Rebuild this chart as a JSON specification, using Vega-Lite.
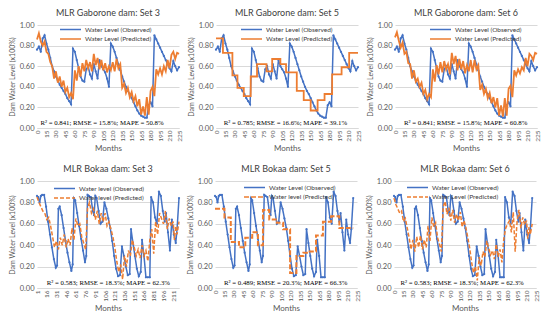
{
  "$schema": "https://vega.github.io/schema/vega-lite/v6.json",
  "background": "white",
  "padding": {"left": 8, "top": 9, "right": 4, "bottom": 4},
  "config": {
    "view": {"stroke": null},
    "font": "Lato",
    "title": {"font": "Lato", "fontSize": 9, "fontWeight": "normal", "color": "#404040", "offset": 3},
    "axis": {"labelFont": "Lato", "titleFont": "Lato", "labelColor": "#595959", "titleColor": "#595959", "titleFontWeight": "normal", "gridColor": "#d9d9d9", "domainColor": "#d9d9d9", "ticks": false},
    "axisY": {"labelFontSize": 7.5, "titleFontSize": 7, "domain": false, "labelPadding": 3, "titlePadding": 4},
    "axisX": {"grid": false, "labelAngle": -90, "labelFontSize": 6.5, "titleFontSize": 8, "labelPadding": 2, "titlePadding": 3, "labelBaseline": "middle", "labelAlign": "right"},
    "legend": {"orient": "none", "labelFont": "Lato", "labelFontSize": 6.5, "labelColor": "#404040", "symbolType": "M-5,0H1", "symbolSize": 49, "symbolStrokeWidth": 1.5, "symbolFillColor": "transparent", "rowPadding": 1.5, "padding": 0, "labelOffset": 3}
  },
  "datasets": {
    "gobs": [{"m":0,"v":0.76},{"m":3,"v":0.79},{"m":6,"v":0.74},{"m":9,"v":0.87},{"m":12,"v":0.9},{"m":15,"v":0.82},{"m":18,"v":0.76},{"m":21,"v":0.68},{"m":24,"v":0.6},{"m":27,"v":0.55},{"m":30,"v":0.5},{"m":33,"v":0.46},{"m":36,"v":0.42},{"m":39,"v":0.39},{"m":42,"v":0.36},{"m":45,"v":0.33},{"m":48,"v":0.29},{"m":51,"v":0.26},{"m":54,"v":0.23},{"m":57,"v":0.77},{"m":60,"v":0.74},{"m":63,"v":0.66},{"m":66,"v":0.58},{"m":69,"v":0.5},{"m":72,"v":0.46},{"m":75,"v":0.45},{"m":78,"v":0.57},{"m":81,"v":0.6},{"m":84,"v":0.52},{"m":87,"v":0.48},{"m":90,"v":0.62},{"m":93,"v":0.55},{"m":96,"v":0.48},{"m":99,"v":0.66},{"m":102,"v":0.6},{"m":105,"v":0.57},{"m":108,"v":0.54},{"m":111,"v":0.48},{"m":114,"v":0.4},{"m":117,"v":0.82},{"m":120,"v":0.79},{"m":123,"v":0.74},{"m":126,"v":0.68},{"m":129,"v":0.62},{"m":132,"v":0.56},{"m":135,"v":0.5},{"m":138,"v":0.45},{"m":141,"v":0.4},{"m":144,"v":0.36},{"m":147,"v":0.33},{"m":150,"v":0.29},{"m":153,"v":0.25},{"m":156,"v":0.21},{"m":159,"v":0.17},{"m":162,"v":0.14},{"m":165,"v":0.12},{"m":168,"v":0.11},{"m":171,"v":0.1},{"m":174,"v":0.1},{"m":177,"v":0.22},{"m":180,"v":0.25},{"m":183,"v":0.21},{"m":186,"v":0.9},{"m":189,"v":0.86},{"m":192,"v":0.82},{"m":195,"v":0.78},{"m":198,"v":0.74},{"m":201,"v":0.7},{"m":204,"v":0.66},{"m":207,"v":0.62},{"m":210,"v":0.58},{"m":213,"v":0.55},{"m":216,"v":0.65},{"m":219,"v":0.6},{"m":222,"v":0.56},{"m":225,"v":0.59}],
    "gp3": [{"m":0,"v":0.86},{"m":3,"v":0.92},{"m":6,"v":0.84},{"m":9,"v":0.8},{"m":12,"v":0.84},{"m":15,"v":0.74},{"m":18,"v":0.72},{"m":21,"v":0.64},{"m":24,"v":0.6},{"m":27,"v":0.48},{"m":30,"v":0.55},{"m":33,"v":0.44},{"m":36,"v":0.5},{"m":39,"v":0.4},{"m":42,"v":0.46},{"m":45,"v":0.35},{"m":48,"v":0.39},{"m":51,"v":0.3},{"m":54,"v":0.34},{"m":57,"v":0.28},{"m":60,"v":0.56},{"m":63,"v":0.46},{"m":66,"v":0.6},{"m":69,"v":0.5},{"m":72,"v":0.63},{"m":75,"v":0.55},{"m":78,"v":0.66},{"m":81,"v":0.58},{"m":84,"v":0.64},{"m":87,"v":0.55},{"m":90,"v":0.72},{"m":93,"v":0.61},{"m":96,"v":0.68},{"m":99,"v":0.57},{"m":102,"v":0.66},{"m":105,"v":0.56},{"m":108,"v":0.63},{"m":111,"v":0.54},{"m":114,"v":0.6},{"m":117,"v":0.56},{"m":120,"v":0.64},{"m":123,"v":0.55},{"m":126,"v":0.67},{"m":129,"v":0.58},{"m":132,"v":0.62},{"m":135,"v":0.39},{"m":138,"v":0.43},{"m":141,"v":0.34},{"m":144,"v":0.39},{"m":147,"v":0.3},{"m":150,"v":0.35},{"m":153,"v":0.26},{"m":156,"v":0.31},{"m":159,"v":0.21},{"m":162,"v":0.28},{"m":165,"v":0.13},{"m":168,"v":0.21},{"m":171,"v":0.12},{"m":174,"v":0.3},{"m":177,"v":0.13},{"m":180,"v":0.36},{"m":183,"v":0.4},{"m":186,"v":0.31},{"m":189,"v":0.57},{"m":192,"v":0.52},{"m":195,"v":0.58},{"m":198,"v":0.52},{"m":201,"v":0.6},{"m":204,"v":0.55},{"m":207,"v":0.66},{"m":210,"v":0.58},{"m":213,"v":0.71},{"m":216,"v":0.74},{"m":219,"v":0.67},{"m":222,"v":0.73},{"m":225,"v":0.72}],
    "gp5": [{"m":0,"v":0.87},{"m":11,"v":0.73},{"m":26,"v":0.51},{"m":34,"v":0.39},{"m":44,"v":0.31},{"m":55,"v":0.5},{"m":65,"v":0.62},{"m":80,"v":0.55},{"m":89,"v":0.67},{"m":102,"v":0.62},{"m":111,"v":0.54},{"m":128,"v":0.36},{"m":139,"v":0.27},{"m":150,"v":0.17},{"m":161,"v":0.27},{"m":172,"v":0.33},{"m":184,"v":0.52},{"m":199,"v":0.59},{"m":211,"v":0.73},{"m":225,"v":0.73}],
    "gp6": [{"m":0,"v":0.88},{"m":3,"v":0.93},{"m":6,"v":0.85},{"m":9,"v":0.78},{"m":12,"v":0.83},{"m":15,"v":0.72},{"m":18,"v":0.74},{"m":21,"v":0.63},{"m":24,"v":0.62},{"m":27,"v":0.48},{"m":30,"v":0.56},{"m":33,"v":0.45},{"m":36,"v":0.48},{"m":39,"v":0.4},{"m":42,"v":0.44},{"m":45,"v":0.33},{"m":48,"v":0.37},{"m":51,"v":0.28},{"m":54,"v":0.33},{"m":57,"v":0.3},{"m":60,"v":0.57},{"m":63,"v":0.45},{"m":66,"v":0.61},{"m":69,"v":0.52},{"m":72,"v":0.64},{"m":75,"v":0.54},{"m":78,"v":0.65},{"m":81,"v":0.57},{"m":84,"v":0.62},{"m":87,"v":0.52},{"m":90,"v":0.73},{"m":93,"v":0.62},{"m":96,"v":0.7},{"m":99,"v":0.56},{"m":102,"v":0.67},{"m":105,"v":0.57},{"m":108,"v":0.65},{"m":111,"v":0.53},{"m":114,"v":0.61},{"m":117,"v":0.55},{"m":120,"v":0.66},{"m":123,"v":0.54},{"m":126,"v":0.66},{"m":129,"v":0.57},{"m":132,"v":0.61},{"m":135,"v":0.37},{"m":138,"v":0.42},{"m":141,"v":0.33},{"m":144,"v":0.38},{"m":147,"v":0.29},{"m":150,"v":0.34},{"m":153,"v":0.24},{"m":156,"v":0.3},{"m":159,"v":0.2},{"m":162,"v":0.29},{"m":165,"v":0.12},{"m":168,"v":0.22},{"m":171,"v":0.11},{"m":174,"v":0.29},{"m":177,"v":0.12},{"m":180,"v":0.38},{"m":183,"v":0.41},{"m":186,"v":0.3},{"m":189,"v":0.56},{"m":192,"v":0.51},{"m":195,"v":0.57},{"m":198,"v":0.53},{"m":201,"v":0.59},{"m":204,"v":0.56},{"m":207,"v":0.68},{"m":210,"v":0.6},{"m":213,"v":0.72},{"m":216,"v":0.7},{"m":219,"v":0.66},{"m":222,"v":0.73},{"m":225,"v":0.72}],
    "bobs": [{"m":0,"v":0.86},{"m":2,"v":0.85},{"m":4,"v":0.8},{"m":6,"v":0.86},{"m":8,"v":0.87},{"m":11,"v":0.87},{"m":14,"v":0.76},{"m":17,"v":0.62},{"m":20,"v":0.5},{"m":23,"v":0.38},{"m":26,"v":0.27},{"m":29,"v":0.19},{"m":31,"v":0.21},{"m":33,"v":0.74},{"m":35,"v":0.76},{"m":38,"v":0.68},{"m":41,"v":0.56},{"m":44,"v":0.44},{"m":47,"v":0.33},{"m":50,"v":0.24},{"m":53,"v":0.16},{"m":55,"v":0.22},{"m":57,"v":0.84},{"m":59,"v":0.82},{"m":62,"v":0.7},{"m":65,"v":0.58},{"m":68,"v":0.46},{"m":71,"v":0.35},{"m":74,"v":0.24},{"m":76,"v":0.3},{"m":78,"v":0.87},{"m":80,"v":0.86},{"m":83,"v":0.85},{"m":86,"v":0.72},{"m":88,"v":0.68},{"m":90,"v":0.86},{"m":92,"v":0.84},{"m":95,"v":0.72},{"m":98,"v":0.6},{"m":101,"v":0.62},{"m":104,"v":0.8},{"m":107,"v":0.74},{"m":110,"v":0.65},{"m":113,"v":0.56},{"m":116,"v":0.44},{"m":119,"v":0.3},{"m":122,"v":0.18},{"m":125,"v":0.11},{"m":128,"v":0.12},{"m":131,"v":0.39},{"m":134,"v":0.3},{"m":137,"v":0.2},{"m":140,"v":0.12},{"m":143,"v":0.13},{"m":145,"v":0.55},{"m":148,"v":0.42},{"m":151,"v":0.3},{"m":154,"v":0.18},{"m":157,"v":0.11},{"m":160,"v":0.15},{"m":162,"v":0.45},{"m":165,"v":0.3},{"m":168,"v":0.1},{"m":171,"v":0.1},{"m":174,"v":0.1},{"m":176,"v":0.85},{"m":179,"v":0.8},{"m":182,"v":0.66},{"m":185,"v":0.6},{"m":188,"v":0.9},{"m":191,"v":0.86},{"m":194,"v":0.72},{"m":197,"v":0.62},{"m":199,"v":0.7},{"m":202,"v":0.52},{"m":205,"v":0.35},{"m":208,"v":0.64},{"m":211,"v":0.5},{"m":214,"v":0.42},{"m":216,"v":0.55},{"m":219,"v":0.84}],
    "bp3": [{"m":0,"v":0.85},{"m":3,"v":0.8},{"m":6,"v":0.76},{"m":9,"v":0.72},{"m":12,"v":0.7},{"m":15,"v":0.64},{"m":18,"v":0.66},{"m":21,"v":0.58},{"m":24,"v":0.48},{"m":27,"v":0.38},{"m":30,"v":0.44},{"m":33,"v":0.36},{"m":36,"v":0.47},{"m":39,"v":0.4},{"m":42,"v":0.5},{"m":45,"v":0.38},{"m":48,"v":0.46},{"m":51,"v":0.4},{"m":54,"v":0.56},{"m":57,"v":0.45},{"m":60,"v":0.65},{"m":63,"v":0.58},{"m":66,"v":0.6},{"m":69,"v":0.48},{"m":72,"v":0.42},{"m":75,"v":0.36},{"m":78,"v":0.75},{"m":81,"v":0.8},{"m":84,"v":0.7},{"m":87,"v":0.74},{"m":90,"v":0.64},{"m":93,"v":0.72},{"m":96,"v":0.6},{"m":99,"v":0.7},{"m":102,"v":0.62},{"m":105,"v":0.7},{"m":108,"v":0.58},{"m":111,"v":0.62},{"m":114,"v":0.55},{"m":117,"v":0.48},{"m":120,"v":0.38},{"m":123,"v":0.25},{"m":126,"v":0.15},{"m":129,"v":0.22},{"m":132,"v":0.08},{"m":135,"v":0.3},{"m":138,"v":0.2},{"m":141,"v":0.35},{"m":144,"v":0.3},{"m":147,"v":0.45},{"m":150,"v":0.38},{"m":153,"v":0.3},{"m":156,"v":0.36},{"m":159,"v":0.28},{"m":162,"v":0.4},{"m":165,"v":0.3},{"m":168,"v":0.35},{"m":171,"v":0.25},{"m":174,"v":0.45},{"m":177,"v":0.55},{"m":180,"v":0.32},{"m":183,"v":0.62},{"m":186,"v":0.5},{"m":189,"v":0.7},{"m":192,"v":0.65},{"m":195,"v":0.6},{"m":198,"v":0.72},{"m":201,"v":0.55},{"m":204,"v":0.65},{"m":207,"v":0.58},{"m":210,"v":0.62},{"m":212,"v":0.45},{"m":214,"v":0.58},{"m":216,"v":0.5},{"m":219,"v":0.62}],
    "bp5": [{"m":0,"v":0.74},{"m":15,"v":0.66},{"m":25,"v":0.43},{"m":38,"v":0.38},{"m":48,"v":0.47},{"m":59,"v":0.52},{"m":68,"v":0.4},{"m":76,"v":0.73},{"m":86,"v":0.64},{"m":98,"v":0.61},{"m":108,"v":0.55},{"m":119,"v":0.14},{"m":129,"v":0.3},{"m":140,"v":0.33},{"m":150,"v":0.34},{"m":160,"v":0.49},{"m":171,"v":0.62},{"m":184,"v":0.67},{"m":197,"v":0.56},{"m":219,"v":0.56}],
    "bp6": [{"m":0,"v":0.84},{"m":3,"v":0.78},{"m":6,"v":0.74},{"m":9,"v":0.7},{"m":12,"v":0.72},{"m":15,"v":0.62},{"m":18,"v":0.65},{"m":21,"v":0.56},{"m":24,"v":0.47},{"m":27,"v":0.36},{"m":30,"v":0.45},{"m":33,"v":0.34},{"m":36,"v":0.48},{"m":39,"v":0.38},{"m":42,"v":0.49},{"m":45,"v":0.36},{"m":48,"v":0.45},{"m":51,"v":0.38},{"m":54,"v":0.58},{"m":57,"v":0.44},{"m":60,"v":0.66},{"m":63,"v":0.57},{"m":66,"v":0.61},{"m":69,"v":0.47},{"m":72,"v":0.41},{"m":75,"v":0.34},{"m":78,"v":0.76},{"m":81,"v":0.81},{"m":84,"v":0.69},{"m":87,"v":0.75},{"m":90,"v":0.63},{"m":93,"v":0.73},{"m":96,"v":0.61},{"m":99,"v":0.69},{"m":102,"v":0.63},{"m":105,"v":0.71},{"m":108,"v":0.57},{"m":111,"v":0.63},{"m":114,"v":0.56},{"m":117,"v":0.47},{"m":120,"v":0.37},{"m":123,"v":0.24},{"m":126,"v":0.14},{"m":129,"v":0.2},{"m":132,"v":0.07},{"m":135,"v":0.29},{"m":138,"v":0.21},{"m":141,"v":0.34},{"m":144,"v":0.29},{"m":147,"v":0.44},{"m":150,"v":0.37},{"m":153,"v":0.31},{"m":156,"v":0.35},{"m":159,"v":0.27},{"m":162,"v":0.41},{"m":165,"v":0.29},{"m":168,"v":0.36},{"m":171,"v":0.24},{"m":174,"v":0.46},{"m":177,"v":0.56},{"m":180,"v":0.6},{"m":183,"v":0.63},{"m":186,"v":0.52},{"m":189,"v":0.71},{"m":192,"v":0.34},{"m":195,"v":0.62},{"m":198,"v":0.73},{"m":201,"v":0.56},{"m":204,"v":0.66},{"m":207,"v":0.59},{"m":210,"v":0.63},{"m":212,"v":0.46},{"m":214,"v":0.57},{"m":216,"v":0.5},{"m":219,"v":0.6}]
  },
  "vconcat": [
    {
      "hconcat": [
        {
          "width": 142, "height": 103,
          "title": "MLR Gaborone dam: Set 3",
          "layer": [
            {"data": {"name": "gobs"}, "mark": {"type": "line", "strokeWidth": 1.5, "point": {"filled": true, "size": 5}},
             "encoding": {
               "x": {"field": "m", "type": "quantitative", "scale": {"domain": [0, 225], "nice": false}, "axis": {"title": "Months", "values": [0,15,30,45,60,75,90,105,120,135,150,165,180,195,210,225], "tickCount": 16}},
               "y": {"field": "v", "type": "quantitative", "scale": {"domain": [0, 1]}, "axis": {"title": "Dam Water Level (x100%)", "values": [0,0.2,0.4,0.6,0.8,1], "format": ".2f", "tickCount": 6}},
               "color": {"datum": "Water Level (Observed)", "scale": {"domain": ["Water Level (Observed)", "Water Level (Predicted)"], "range": ["#4472C4", "#ED7D31"]}, "legend": {"title": null, "legendX": 36, "legendY": 0}}}},
            {"data": {"name": "gp3"}, "mark": {"type": "line", "strokeWidth": 1.8},
             "encoding": {"x": {"field": "m", "type": "quantitative"}, "y": {"field": "v", "type": "quantitative"}, "color": {"datum": "Water Level (Predicted)"}}},
            {"data": {"values": [{"label": "R² = 0.841; RMSE = 15.8%; MAPE = 50.8%"}]}, "mark": {"type": "text", "font": "Liberation Serif", "fontSize": 6.8, "color": "#000000", "align": "center"},
             "encoding": {"x": {"datum": 103}, "y": {"datum": 0.05}, "text": {"field": "label"}}}
          ]
        },
        {
          "width": 142, "height": 103,
          "title": "MLR Gaborone dam: Set 5",
          "layer": [
            {"data": {"name": "gobs"}, "mark": {"type": "line", "strokeWidth": 1.5, "point": {"filled": true, "size": 5}},
             "encoding": {
               "x": {"field": "m", "type": "quantitative", "scale": {"domain": [0, 225], "nice": false}, "axis": {"title": "Months", "values": [0,15,30,45,60,75,90,105,120,135,150,165,180,195,210,225], "tickCount": 16}},
               "y": {"field": "v", "type": "quantitative", "scale": {"domain": [0, 1]}, "axis": {"title": "Dam Water Level (x100%)", "values": [0,0.2,0.4,0.6,0.8,1], "format": ".2f", "tickCount": 6}},
               "color": {"datum": "Water Level (Observed)", "scale": {"domain": ["Water Level (Observed)", "Water Level (Predicted)"], "range": ["#4472C4", "#ED7D31"]}, "legend": {"title": null, "legendX": 38, "legendY": 0}}}},
            {"data": {"name": "gp5"}, "mark": {"type": "line", "strokeWidth": 1.8, "interpolate": "step-after"},
             "encoding": {"x": {"field": "m", "type": "quantitative"}, "y": {"field": "v", "type": "quantitative"}, "color": {"datum": "Water Level (Predicted)"}}},
            {"data": {"values": [{"label": "R² = 0.785; RMSE = 16.6%; MAPE = 39.1%"}]}, "mark": {"type": "text", "font": "Liberation Serif", "fontSize": 6.8, "color": "#000000", "align": "center"},
             "encoding": {"x": {"datum": 110}, "y": {"datum": 0.05}, "text": {"field": "label"}}}
          ]
        },
        {
          "width": 142, "height": 103,
          "title": "MLR Gaborone dam: Set 6",
          "layer": [
            {"data": {"name": "gobs"}, "mark": {"type": "line", "strokeWidth": 1.5, "point": {"filled": true, "size": 5}},
             "encoding": {
               "x": {"field": "m", "type": "quantitative", "scale": {"domain": [0, 225], "nice": false}, "axis": {"title": "Months", "values": [0,15,30,45,60,75,90,105,120,135,150,165,180,195,210,225], "tickCount": 16}},
               "y": {"field": "v", "type": "quantitative", "scale": {"domain": [0, 1]}, "axis": {"title": "Dam Water Level (x100%)", "values": [0,0.2,0.4,0.6,0.8,1], "format": ".2f", "tickCount": 6}},
               "color": {"datum": "Water Level (Observed)", "scale": {"domain": ["Water Level (Observed)", "Water Level (Predicted)"], "range": ["#4472C4", "#ED7D31"]}, "legend": {"title": null, "legendX": 48, "legendY": 0}}}},
            {"data": {"name": "gp6"}, "mark": {"type": "line", "strokeWidth": 1.8},
             "encoding": {"x": {"field": "m", "type": "quantitative"}, "y": {"field": "v", "type": "quantitative"}, "color": {"datum": "Water Level (Predicted)"}}},
            {"data": {"values": [{"label": "R² = 0.841; RMSE = 15.8%; MAPE = 60.8%"}]}, "mark": {"type": "text", "font": "Liberation Serif", "fontSize": 6.8, "color": "#000000", "align": "center"},
             "encoding": {"x": {"datum": 112}, "y": {"datum": 0.05}, "text": {"field": "label"}}}
          ]
        }
      ],
      "spacing": 4,
      "resolve": {"scale": {"color": "independent", "strokeDash": "independent"}, "legend": {"color": "independent", "strokeDash": "independent"}}
    },
    {
      "hconcat": [
        {
          "width": 142, "height": 107,
          "title": "MLR Bokaa dam: Set 3",
          "layer": [
            {"data": {"name": "bobs"}, "mark": {"type": "line", "strokeWidth": 1.5, "point": {"filled": true, "size": 5}},
             "encoding": {
               "x": {"field": "m", "type": "quantitative", "scale": {"domain": [0, 219], "nice": false}, "axis": {"title": "Months", "values": [0,15,30,45,60,75,90,105,120,135,150,165,180,195,210], "labelExpr": "datum.value + 1", "tickCount": 16}},
               "y": {"field": "v", "type": "quantitative", "scale": {"domain": [0, 1]}, "axis": {"title": "Dam Water Level (x100%)", "values": [0,0.2,0.4,0.6,0.8,1], "format": ".2f", "tickCount": 6}},
               "color": {"datum": "Water level (Observed)", "scale": {"domain": ["Water level (Observed)", "Water level (Predicted)"], "range": ["#4472C4", "#ED7D31"]}, "legend": {"title": null, "legendX": 30, "legendY": 3}},
               "strokeDash": {"datum": "Water level (Observed)", "scale": {"domain": ["Water level (Observed)", "Water level (Predicted)"], "range": [[1, 0], [4, 2]]}, "legend": {"title": null, "legendX": 30, "legendY": 3}}}},
            {"data": {"name": "bp3"}, "mark": {"type": "line", "strokeWidth": 1.5},
             "encoding": {"x": {"field": "m", "type": "quantitative"}, "y": {"field": "v", "type": "quantitative"}, "color": {"datum": "Water level (Predicted)"}, "strokeDash": {"datum": "Water level (Predicted)"}}},
            {"data": {"values": [{"label": "R² = 0.583; RMSE = 18.3%; MAPE = 62.3%"}]}, "mark": {"type": "text", "font": "Liberation Serif", "fontSize": 6.8, "color": "#000000", "align": "center"},
             "encoding": {"x": {"datum": 110}, "y": {"datum": 0.05}, "text": {"field": "label"}}}
          ]
        },
        {
          "width": 142, "height": 107,
          "title": "MLR Bokaa dam: Set 5",
          "layer": [
            {"data": {"name": "bobs"}, "mark": {"type": "line", "strokeWidth": 1.5, "point": {"filled": true, "size": 5}},
             "encoding": {
               "x": {"field": "m", "type": "quantitative", "scale": {"domain": [0, 225], "nice": false}, "axis": {"title": "Months", "values": [0,15,30,45,60,75,90,105,120,135,150,165,180,195,210,225], "tickCount": 16}},
               "y": {"field": "v", "type": "quantitative", "scale": {"domain": [0, 1]}, "axis": {"title": "Dam Water Level (x100%)", "values": [0,0.2,0.4,0.6,0.8,1], "format": ".2f", "tickCount": 6}},
               "color": {"datum": "Water Level (Observed)", "scale": {"domain": ["Water Level (Observed)", "Water level (Predicted)"], "range": ["#4472C4", "#ED7D31"]}, "legend": {"title": null, "legendX": 42, "legendY": 2}},
               "strokeDash": {"datum": "Water Level (Observed)", "scale": {"domain": ["Water Level (Observed)", "Water level (Predicted)"], "range": [[1, 0], [5, 2]]}, "legend": {"title": null, "legendX": 42, "legendY": 2}}}},
            {"data": {"name": "bp5"}, "mark": {"type": "line", "strokeWidth": 2, "interpolate": "step-after"},
             "encoding": {"x": {"field": "m", "type": "quantitative"}, "y": {"field": "v", "type": "quantitative"}, "color": {"datum": "Water level (Predicted)"}, "strokeDash": {"datum": "Water level (Predicted)"}}},
            {"data": {"values": [{"label": "R² = 0.489; RMSE = 20.3%; MAPE = 66.3%"}]}, "mark": {"type": "text", "font": "Liberation Serif", "fontSize": 6.8, "color": "#000000", "align": "center"},
             "encoding": {"x": {"datum": 112}, "y": {"datum": 0.05}, "text": {"field": "label"}}}
          ]
        },
        {
          "width": 142, "height": 107,
          "title": "MLR Bokaa dam: Set 6",
          "layer": [
            {"data": {"name": "bobs"}, "mark": {"type": "line", "strokeWidth": 1.5, "point": {"filled": true, "size": 5}},
             "encoding": {
               "x": {"field": "m", "type": "quantitative", "scale": {"domain": [0, 225], "nice": false}, "axis": {"title": "Months", "values": [0,15,30,45,60,75,90,105,120,135,150,165,180,195,210,225], "tickCount": 16}},
               "y": {"field": "v", "type": "quantitative", "scale": {"domain": [0, 1]}, "axis": {"title": "Dam Water Level (x100%)", "values": [0,0.2,0.4,0.6,0.8,1], "format": ".2f", "tickCount": 6}},
               "color": {"datum": "Water Level (Observed)", "scale": {"domain": ["Water Level (Observed)", "Water Level (Predicted)"], "range": ["#4472C4", "#ED7D31"]}, "legend": {"title": null, "legendX": 26, "legendY": 2}},
               "strokeDash": {"datum": "Water Level (Observed)", "scale": {"domain": ["Water Level (Observed)", "Water Level (Predicted)"], "range": [[1, 0], [4, 2]]}, "legend": {"title": null, "legendX": 26, "legendY": 2}}}},
            {"data": {"name": "bp6"}, "mark": {"type": "line", "strokeWidth": 1.5},
             "encoding": {"x": {"field": "m", "type": "quantitative"}, "y": {"field": "v", "type": "quantitative"}, "color": {"datum": "Water Level (Predicted)"}, "strokeDash": {"datum": "Water Level (Predicted)"}}},
            {"data": {"values": [{"label": "R² = 0.583; RMSE = 18.3%; MAPE = 62.3%"}]}, "mark": {"type": "text", "font": "Liberation Serif", "fontSize": 6.8, "color": "#000000", "align": "center"},
             "encoding": {"x": {"datum": 108}, "y": {"datum": 0.05}, "text": {"field": "label"}}}
          ]
        }
      ],
      "spacing": 4,
      "resolve": {"scale": {"color": "independent", "strokeDash": "independent"}, "legend": {"color": "independent", "strokeDash": "independent"}}
    }
  ],
  "spacing": 12
}
